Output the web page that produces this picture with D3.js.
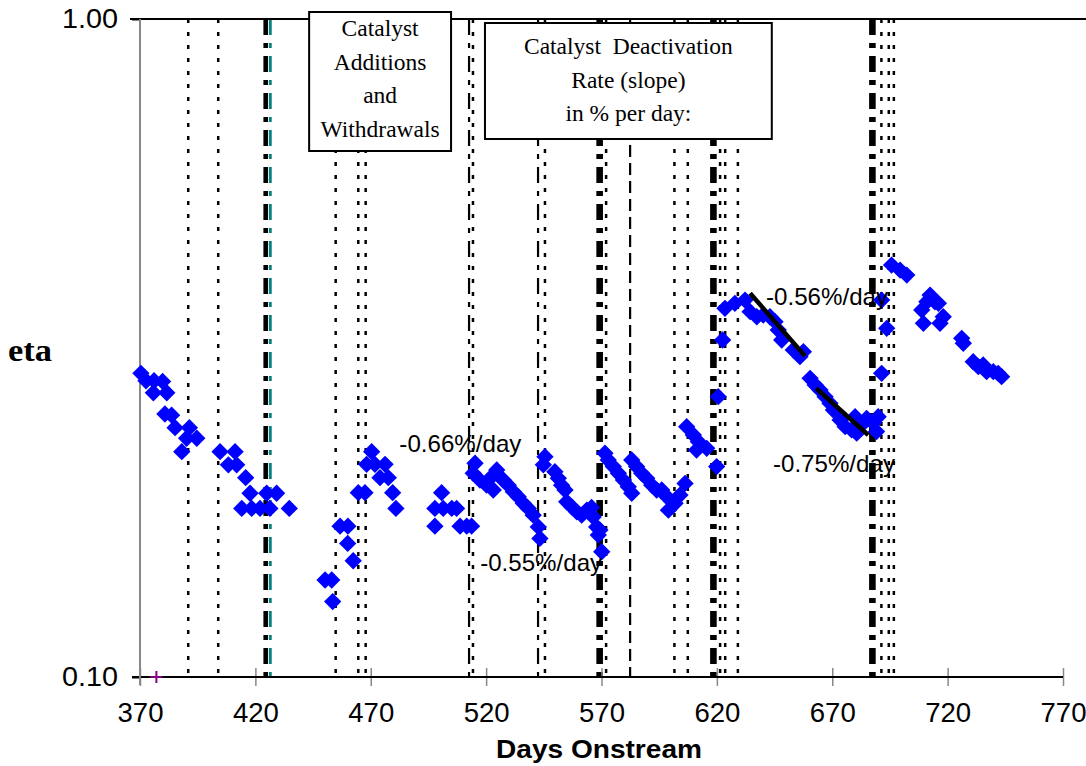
<!DOCTYPE html>
<html>
<head>
<meta charset="utf-8">
<script src="https://cdn.jsdelivr.net/npm/d3@7"></script>
<style>
  html, body { margin: 0; padding: 0; background: #fff; }
  svg { display: block; }
</style>
</head>
<body>
<svg id="chart" width="1086" height="766"></svg>
<script>
// ---------------- data ----------------
const pointDays = [
  370.4,372.6,376.1,379.8,375.8,381.6,380.8,383.7,385.2,391.4,390.2,394.6,388.1,404.7,411.2,408.3,411.9,415.8,417.7,424.9,429.2,414.1,418.4,422.0,426.3,434.7,
  450.2,453.1,453.5,456.7,460.1,460.0,462.4,464.6,467.5,470.4,468.2,471.8,476.2,474.0,477.6,479.5,480.9,
  500.7,497.8,501.4,505.1,507.2,497.8,508.7,511.6,513.7,515.2,514.4,517.3,520.2,522.4,524.6,526.0,523.1,527.4,529.6,531.8,533.9,536.1,538.3,540.4,542.6,543.3,
  545.5,544.8,549.8,551.3,552.7,554.2,554.9,557.1,559.3,561.4,563.6,565.7,566.4,567.9,569.3,568.6,570.1,
  571.5,572.9,575.1,577.3,579.5,581.6,583.1,583.1,585.2,587.4,589.6,591.8,593.9,596.1,598.3,599.0,601.9,604.0,606.2,
  606.9,609.8,612.0,615.6,611.2,619.9,620.6,622.5,623.5,627.8,632.2,634.4,637.3,640.1,643.0,645.2,646.6,648.1,653.1,656.0,657.5,
  660.4,662.6,664.7,666.9,669.0,670.5,673.4,675.6,678.4,679.9,680.6,683.4,684.9,687.8,689.2,689.9,
  691.4,693.6,691.4,695.7,699.4,702.3,712.4,711.0,714.5,708.8,716.0,709.5,718.1,716.7,726.1,726.8,731.1,733.3,735.4,736.9,739.8,741.9,743.4
];
const pointEta = [
  0.2894,0.2820,0.2820,0.2813,0.2704,0.2704,0.2510,0.2500,0.2393,0.2393,0.2306,0.2306,0.2200,0.2200,0.2200,0.2101,0.2101,0.2009,0.1902,0.1902,0.1902,0.1804,0.1804,0.1804,0.1804,0.1804,
  0.1404,0.1404,0.1302,0.1695,0.1695,0.1596,0.1502,0.1906,0.1906,0.2200,0.2105,0.2105,0.2105,0.2009,0.2009,0.1906,0.1804,
  0.1906,0.1804,0.1804,0.1804,0.1804,0.1695,0.1695,0.1695,0.1695,0.2113,0.2040,0.1992,0.1957,0.2016,0.2064,0.2016,0.1924,0.1992,0.1957,0.1912,0.1879,0.1836,0.1804,0.1762,0.1691,0.1624,
  0.2162,0.2101,0.2051,0.2004,0.1957,0.1924,0.1846,0.1814,0.1782,0.1762,0.1793,0.1810,0.1751,0.1691,0.1672,0.1643,0.1550,
  0.2188,0.2137,0.2088,0.2040,0.1992,0.1946,0.1902,0.2137,0.2088,0.2040,0.2004,0.1957,0.1924,0.1924,0.1879,0.1793,0.1836,0.1890,0.1969,
  0.2401,0.2333,0.2278,0.2226,0.2213,0.2088,0.2667,0.3252,0.3633,0.3697,0.3740,0.3591,0.3528,0.3549,0.3528,0.3467,0.3368,0.3252,0.3141,0.3068,0.3122,
  0.2844,0.2778,0.2730,0.2667,0.2606,0.2545,0.2458,0.2401,0.2374,0.2486,0.2347,0.2430,0.2472,0.2430,0.2360,0.2486,
  0.3740,0.3388,0.2894,0.4227,0.4154,0.4082,0.3806,0.3718,0.3718,0.3612,0.3697,0.3447,0.3528,0.3447,0.3271,0.3215,0.3014,0.2962,0.2980,0.2911,0.2911,0.2894,0.2860
];

// catalyst addition / withdrawal event days and their line kinds
const eventDays  = [390.9, 403.9, 424.5, 426.5, 454.8, 464.6, 467.8, 512.6, 514.3, 542.5, 545.5, 569.2, 572.0, 582.4, 601.6, 607.4, 618.5, 621.4, 623.6, 629.1, 687.4, 691.3, 694.5, 696.7];
const eventKinds = ["dot","dot","medium","teal","dot","dot","dot","dashdot","dot","dashdot","dot","thick","dot","dash","dot","dot","thick","dot","dot","dot","thick","dot","dot","dot"];

// deactivation trend lines
const trendX0 = [634.4, 663.0];
const trendY0 = [0.383, 0.2747];
const trendX1 = [658.2, 685.6];
const trendY1 = [0.3075, 0.2332];

// slope labels
const slopeText = ["-0.66%/day", "-0.55%/day", "-0.56%/day", "-0.75%/day"];
const slopeDay  = [482.4, 517.4, 641.3, 644.3];
const slopeEta  = [0.2195, 0.1448, 0.3675, 0.2046];

const xTicks = [370, 420, 470, 520, 570, 620, 670, 720, 770];
const yTicks = [0.10, 1.00];
const markerDay = [377.1];
const markerEta = [0.10];

// ---------------- drawing ----------------
const svg = d3.select("#chart");
const x = d3.scaleLinear().domain([370, 770]).range([140, 1063]);
const y = d3.scaleLog().domain([0.1, 1]).range([677, 19]);

const SANS = "'Liberation Sans', Arial, sans-serif";
const SERIF = "'Liberation Serif', 'Times New Roman', serif";

const kindStyle = {
  dot:     {w: 2.5, dash: "4,9",       c: "#000"},
  dashdot: {w: 2.2, dash: "16,8,5,8",  c: "#000"},
  medium:  {w: 4.7, dash: "16,8,5,8",  c: "#000"},
  thick:   {w: 6.6, dash: "16,8,5,8",  c: "#000"},
  teal:    {w: 2.7, dash: "16,8,5,8",  c: "#008080"},
  dash:    {w: 2.2, dash: "12,6",      c: "#000"}
};

// event lines
svg.append("g").selectAll("line").data(eventDays).join("line")
  .attr("x1", d => x(d)).attr("x2", d => x(d))
  .attr("y1", y(1)).attr("y2", y(0.1))
  .attr("stroke", (d, i) => kindStyle[eventKinds[i]].c)
  .attr("stroke-width", (d, i) => kindStyle[eventKinds[i]].w)
  .attr("stroke-dasharray", (d, i) => kindStyle[eventKinds[i]].dash);

// top border
svg.append("line").attr("x1", 130).attr("x2", 1086).attr("y1", y(1)).attr("y2", y(1))
  .attr("stroke", "#000").attr("stroke-width", 2);

// x axis
const xAxis = svg.append("g").attr("transform", `translate(0,${y(0.1)})`)
  .call(d3.axisBottom(x).tickValues(xTicks).tickFormat(d3.format("d")).tickSize(9).tickPadding(17));
xAxis.select(".domain").remove();
xAxis.selectAll(".tick line").attr("y1", -9).attr("y2", 9).attr("stroke", "#888").attr("stroke-width", 1.5);
xAxis.selectAll(".tick text").attr("font-family", SANS).attr("font-size", 27).attr("fill", "#000")
  .attr("textLength", 46).attr("lengthAdjust", "spacingAndGlyphs");
svg.append("line").attr("x1", 132).attr("x2", x(770)).attr("y1", y(0.1)).attr("y2", y(0.1))
  .attr("stroke", "#000").attr("stroke-width", 2);

// y axis
const yAxis = svg.append("g").attr("transform", `translate(${x(370)},0)`)
  .call(d3.axisLeft(y).tickValues(yTicks).tickFormat(d3.format(".2f")).tickSize(8).tickPadding(14));
yAxis.select(".domain").remove();
yAxis.selectAll(".tick line").attr("stroke", "#000").attr("stroke-width", 2);
yAxis.selectAll(".tick text").attr("font-family", SANS).attr("font-size", 27).attr("fill", "#000")
  .attr("textLength", 56).attr("lengthAdjust", "spacingAndGlyphs");
svg.append("line").attr("x1", x(370)).attr("x2", x(370)).attr("y1", y(1)).attr("y2", y(0.1) + 8)
  .attr("stroke", "#888").attr("stroke-width", 2);

// axis titles
svg.append("text").attr("x", 599).attr("y", 758).attr("text-anchor", "middle")
  .attr("font-family", SANS).attr("font-weight", "bold").attr("font-size", 25)
  .attr("textLength", 206).attr("lengthAdjust", "spacingAndGlyphs").text("Days Onstream");
svg.append("text").attr("x", 8).attr("y", 361)
  .attr("font-family", SERIF).attr("font-weight", "bold").attr("font-size", 31)
  .attr("textLength", 44).attr("lengthAdjust", "spacingAndGlyphs").text("eta");

// annotation boxes
function box(x0, y0, x1, y1, lines, baselines) {
  const g = svg.append("g");
  g.append("rect").attr("x", x0).attr("y", y0).attr("width", x1 - x0).attr("height", y1 - y0)
    .attr("fill", "#fff").attr("stroke", "#000").attr("stroke-width", 2);
  lines.forEach((t, i) => {
    g.append("text").attr("x", (x0 + x1) / 2).attr("y", baselines[i]).attr("text-anchor", "middle")
      .attr("font-family", SERIF).attr("font-size", 23.5)
      .style("white-space", "pre").text(t);
  });
}
box(x(443.3), 12, x(504.8), 151, ["Catalyst", "Additions", "and", "Withdrawals"], [36, 69.5, 103, 136.5]);
box(x(519.5), 23, x(643.8), 139, ["Catalyst  Deactivation", "Rate (slope)", "in % per day:"], [54, 87.5, 121]);

// data points (diamonds)
const diamond = d3.symbol().type(d3.symbolSquare).size(150);
svg.append("g").selectAll("path").data(pointDays).join("path")
  .attr("d", diamond)
  .attr("transform", (d, i) => `translate(${x(d)},${y(pointEta[i])}) rotate(45)`)
  .attr("fill", "#0000ff");

// trend lines
svg.append("g").selectAll("line").data(trendX0).join("line")
  .attr("x1", d => x(d)).attr("y1", (d, i) => y(trendY0[i]))
  .attr("x2", (d, i) => x(trendX1[i])).attr("y2", (d, i) => y(trendY1[i]))
  .attr("stroke", "#000").attr("stroke-width", 4.5);

// slope labels
svg.append("g").selectAll("text").data(slopeText).join("text")
  .attr("x", (d, i) => x(slopeDay[i])).attr("y", (d, i) => y(slopeEta[i]))
  .attr("font-family", SANS).attr("font-size", 24).attr("fill", "#000")
  .attr("textLength", 122).attr("lengthAdjust", "spacingAndGlyphs")
  .text(d => d);

// purple plus marker
const plus = svg.append("g").selectAll("g").data(markerDay).join("g")
  .attr("transform", (d, i) => `translate(${x(d)},${y(markerEta[i])})`);
plus.append("line").attr("x1", -6).attr("x2", 6).attr("y1", 0).attr("y2", 0)
  .attr("stroke", "#800080").attr("stroke-width", 2);
plus.append("line").attr("x1", 0).attr("x2", 0).attr("y1", -6).attr("y2", 6)
  .attr("stroke", "#800080").attr("stroke-width", 2);
</script>
</body>
</html>
